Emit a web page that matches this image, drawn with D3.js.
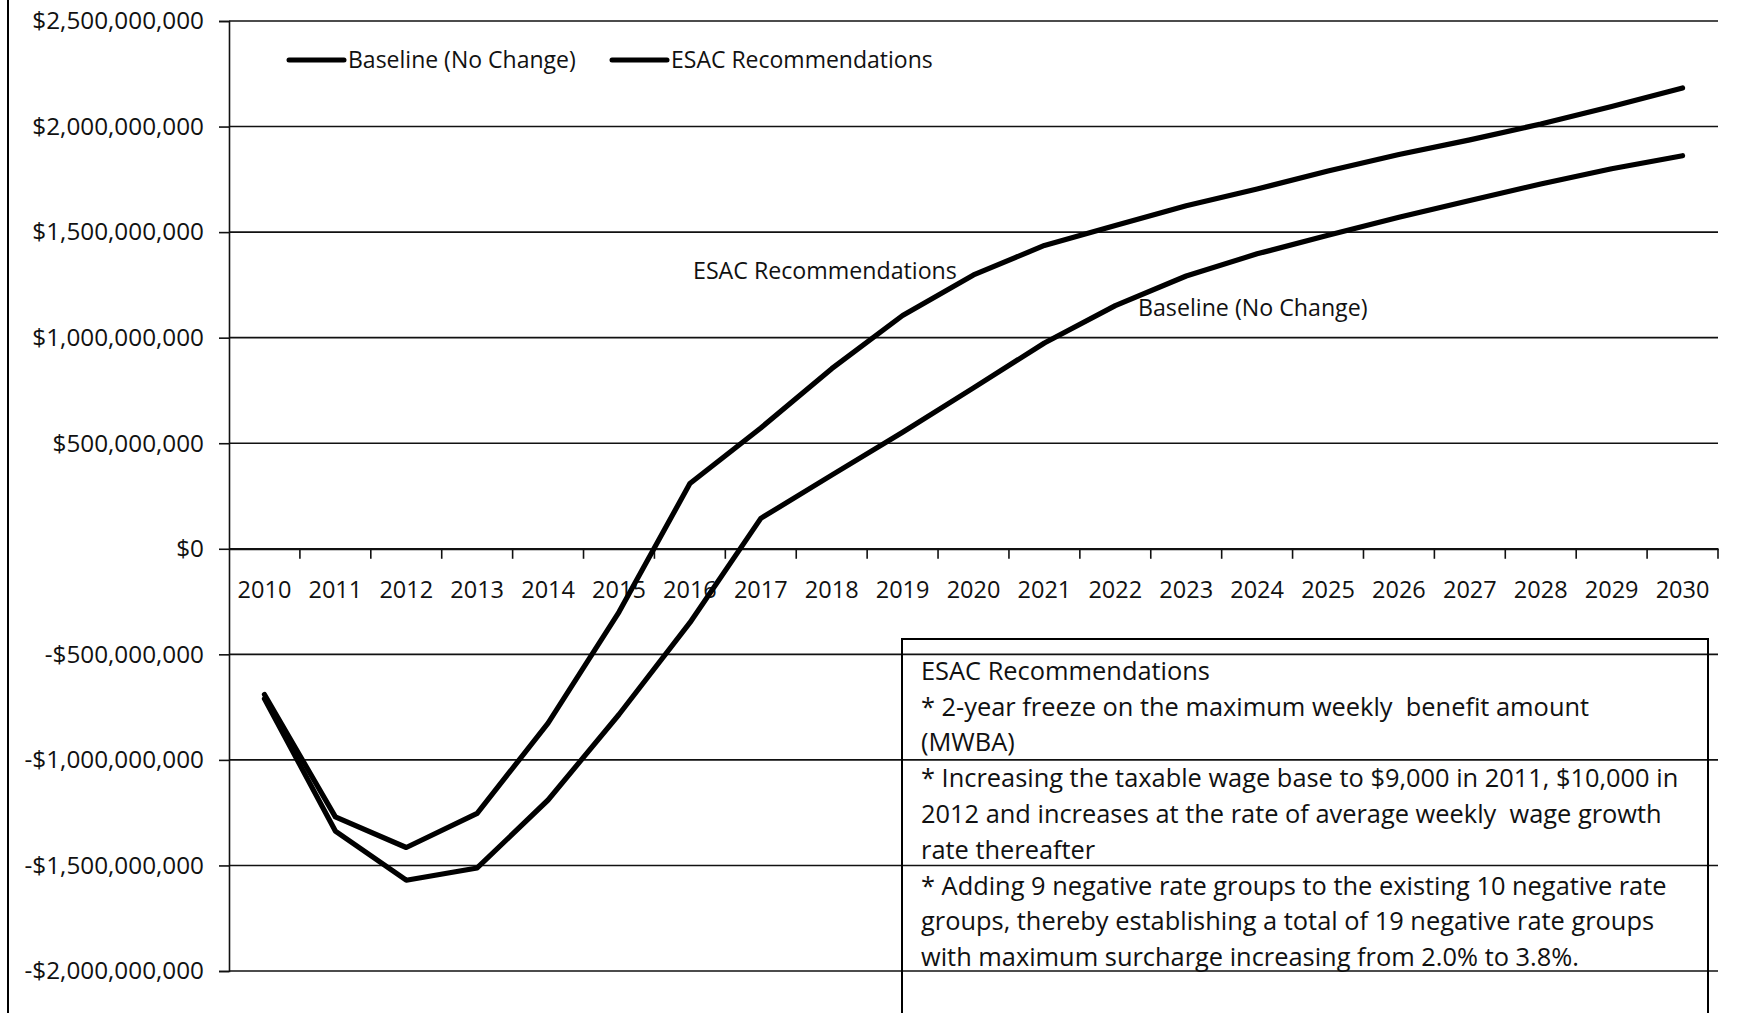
<!DOCTYPE html>
<html>
<head>
<meta charset="utf-8">
<script src="https://cdn.jsdelivr.net/npm/d3@7"></script>
<style>
  html, body { margin: 0; padding: 0; background: #fff; }
  svg { display: block; font-family: 'Open Sans', 'Noto Sans', sans-serif; }
</style>
</head>
<body>
<svg id="chart" width="1737" height="1013"></svg>
<script>
// ---- data ----
const years = ["2010","2011","2012","2013","2014","2015","2016","2017","2018","2019","2020",
               "2021","2022","2023","2024","2025","2026","2027","2028","2029","2030"];
const baseline = [-710e6, -1337e6, -1570e6, -1512e6, -1190e6, -785e6, -350e6, 144e6, 349e6, 552e6, 762e6,
                  975e6, 1152e6, 1292e6, 1397e6, 1485e6, 1570e6, 1650e6, 1728e6, 1800e6, 1862e6];
const esac = [-690e6, -1270e6, -1415e6, -1253e6, -826e6, -300e6, 309e6, 572e6, 853e6, 1105e6, 1297e6,
              1437e6, 1531e6, 1625e6, 1704e6, 1789e6, 1868e6, 1937e6, 2012e6, 2095e6, 2183e6];
const yTicks = [-2000000000, -1500000000, -1000000000, -500000000, 0,
                500000000, 1000000000, 1500000000, 2000000000, 2500000000];
const seriesNames = ["Baseline (No Change)", "ESAC Recommendations"];
const boxTitle = "ESAC Recommendations";
const boxLines = [
  "* 2-year freeze on the maximum weekly  benefit amount",
  "(MWBA)",
  "* Increasing the taxable wage base to $9,000 in 2011, $10,000 in",
  "2012 and increases at the rate of average weekly  wage growth",
  "rate thereafter",
  "* Adding 9 negative rate groups to the existing 10 negative rate",
  "groups, thereby establishing a total of 19 negative rate groups",
  "with maximum surcharge increasing from 2.0% to 3.8%."
];

// ---- layout ----
const svg = d3.select("#chart");
const L = 229, R = 1718, T = 21, B = 971;
const x = d3.scaleBand().domain(years).range([L, R]).padding(0);
const y = d3.scaleLinear().domain([-2e9, 2.5e9]).range([B, T]);
const bw = x.bandwidth();
const fmt = v => (v < 0 ? "-$" : "$") + d3.format(",")(Math.abs(v));

// outer frame line on the left
svg.append("line").attr("x1", 8).attr("x2", 8).attr("y1", 0).attr("y2", 1013)
  .attr("stroke", "#000").attr("stroke-width", 2);

// gridlines
svg.append("g").selectAll("line").data(yTicks).join("line")
  .attr("x1", L).attr("x2", R)
  .attr("y1", d => y(d)).attr("y2", d => y(d))
  .attr("stroke", "#111").attr("stroke-width", 1.6);

// y axis
const yAxis = svg.append("g").attr("transform", `translate(${L},0)`)
  .call(d3.axisLeft(y).tickValues(yTicks).tickSize(10).tickPadding(15).tickFormat(fmt));
yAxis.select(".domain").attr("stroke", "#111").attr("stroke-width", 1.6);
yAxis.selectAll(".tick line").attr("stroke", "#111").attr("stroke-width", 1.6);
yAxis.selectAll("text").attr("font-size", 24.3).attr("fill", "#111")
  .attr("font-family", "'Open Sans', sans-serif");

// x axis (at zero)
const y0 = y(0);
const xAxis = svg.append("g").attr("transform", `translate(0,${y0})`)
  .call(d3.axisBottom(x).tickSize(0).tickPadding(0));
xAxis.select(".domain").attr("stroke", "#111").attr("stroke-width", 2);
xAxis.selectAll(".tick text").attr("y", 41).attr("dy", "0.35em")
  .attr("font-size", 23.5).attr("fill", "#111")
  .attr("font-family", "'Open Sans', sans-serif");
const bounds = years.map(d => x(d)).concat([R]);
svg.append("g").selectAll("line").data(bounds.slice(1)).join("line")
  .attr("x1", d => d).attr("x2", d => d)
  .attr("y1", y0).attr("y2", y0 + 10)
  .attr("stroke", "#111").attr("stroke-width", 1.6);

// series lines
const line = d3.line().x((d, i) => x(years[i]) + bw / 2).y(d => y(d));
[baseline, esac].forEach(s => {
  svg.append("path").datum(s).attr("d", line)
    .attr("fill", "none").attr("stroke", "#000").attr("stroke-width", 5.2)
    .attr("stroke-linejoin", "round").attr("stroke-linecap", "round");
});

// legend
const legendX = [289, 612];
seriesNames.forEach((n, i) => {
  svg.append("line").attr("x1", legendX[i]).attr("x2", legendX[i] + 55)
    .attr("y1", 60).attr("y2", 60).attr("stroke", "#000").attr("stroke-width", 5)
    .attr("stroke-linecap", "round");
  svg.append("text").attr("x", legendX[i] + 59).attr("y", 60).attr("dy", "0.35em")
    .attr("font-size", 23).attr("fill", "#111").text(n);
});

// in-plot labels
svg.append("text").attr("x", 693).attr("y", 271).attr("dy", "0.35em")
  .attr("font-size", 23.2).attr("fill", "#111").text(seriesNames[1]);
svg.append("text").attr("x", 1138).attr("y", 308).attr("dy", "0.35em")
  .attr("font-size", 23.2).attr("fill", "#111").text(seriesNames[0]);

// annotation box
svg.append("rect").attr("x", 902).attr("y", 639).attr("width", 806).attr("height", 420)
  .attr("fill", "none").attr("stroke", "#000").attr("stroke-width", 2);
const allLines = [boxTitle].concat(boxLines);
svg.append("g").selectAll("text").data(allLines).join("text")
  .attr("x", 921).attr("y", (d, i) => 671 + i * 35.8).attr("dy", "0.35em")
  .attr("font-size", 25.4).attr("fill", "#111")
  .style("white-space", "pre")
  .text(d => d);
</script>
</body>
</html>
